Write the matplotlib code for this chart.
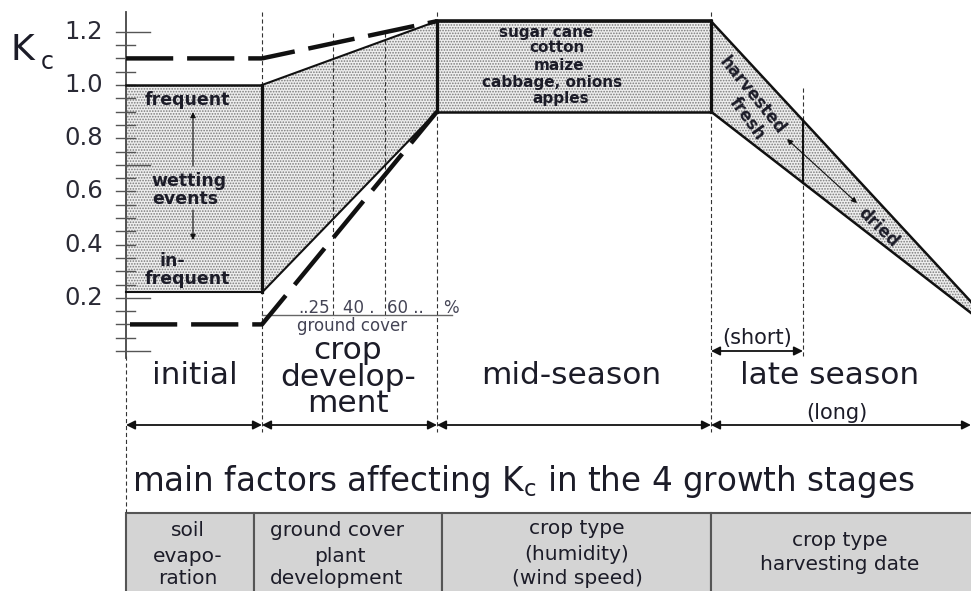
import matplotlib
matplotlib.use('Agg')
import matplotlib.pyplot as plt
import numpy as np
from matplotlib.patches import Polygon, Rectangle

plt.rcParams['font.family'] = ['DejaVu Sans']
plt.rcParams['hatch.linewidth'] = 0.8
plt.rcParams['lines.scale_dashes'] = False

# ---------------- data ----------------
stage_names = ['initial', 'crop\ndevelop-\nment', 'mid-season', 'late season']
stage_bounds = [0, 136, 311, 585, 845]      # time along the season (arbitrary units)
short_late_end = 677
kc_ini_range = [0.22, 1.00]
kc_ini_dash = [0.10, 1.10]
kc_mid_range = [0.90, 1.24]
kc_end_range = [0.143, 0.185]
ground_cover_labels = ['..25', '40 .', '60 ..', '%']
ground_cover_t = [207, 259]
ytick_values = [0.2, 0.4, 0.6, 0.8, 1.0, 1.2]
mid_crops = ['sugar cane', 'cotton', 'maize', 'cabbage, onions', 'apples']

# ---------------- figure ----------------
W, H = 971, 591
fig = plt.figure(figsize=(W / 100, H / 100), dpi=100)
ax = fig.add_axes([0, 0, 1, 1])
AX0, KC0, PPK = 126, 351, 266          # pixel of time 0, pixel of Kc 0, pixels per Kc unit


def X(px):
    return px - AX0


def Y(py):
    return (KC0 - py) / PPK


ax.set_xlim(X(0), X(W))
ax.set_ylim(Y(H), Y(0))
ax.axis('off')

TXT = '#1c1c28'
t0, t1, t2, t3, t4 = stage_bounds
ini_lo, ini_hi = kc_ini_range
mid_lo, mid_hi = kc_mid_range
end_lo, end_hi = kc_end_range

fill_kw = dict(facecolor='#eeeeee', edgecolor='#7a7a7a', hatch='......', linewidth=0, zorder=1)
ax.add_patch(Polygon([(t0, ini_lo), (t0, ini_hi), (t1, ini_hi), (t1, ini_lo)], closed=True, **fill_kw))
ax.add_patch(Polygon([(t1, ini_lo), (t1, ini_hi), (t2, mid_hi), (t2, mid_lo)], closed=True, **fill_kw))
ax.add_patch(Polygon([(t2, mid_lo), (t2, mid_hi), (t3, mid_hi), (t3, mid_lo)], closed=True, **fill_kw))
ax.add_patch(Polygon([(t3, mid_lo), (t3, mid_hi), (t4, end_hi), (t4, end_lo)], closed=True, **fill_kw))

K = '#111111'
ax.plot([t0, t1], [ini_hi, ini_hi], color=K, lw=1.8, zorder=3)
ax.plot([t0, t1], [ini_lo, ini_lo], color=K, lw=1.5, zorder=3)
ax.plot([t1, t1], [ini_lo, ini_hi], color=K, lw=2.3, zorder=3)
ax.plot([t1, t2], [ini_hi, mid_hi], color=K, lw=1.5, zorder=3)
ax.plot([t1, t2], [ini_lo, mid_lo], color=K, lw=1.5, zorder=3)
ax.plot([t2, t3], [mid_hi, mid_hi], color=K, lw=2.6, zorder=3)
ax.plot([t2, t3], [mid_lo, mid_lo], color=K, lw=1.8, zorder=3)
ax.plot([t2, t2], [mid_lo, mid_hi], color=K, lw=2.3, zorder=3)
ax.plot([t3, t3], [mid_lo, mid_hi], color=K, lw=2.3, zorder=3)
ax.plot([t3, t4], [mid_hi, end_hi], color=K, lw=1.8, zorder=3)
ax.plot([t3, t4], [mid_lo, end_lo], color=K, lw=1.8, zorder=3)
s_hi = np.interp(short_late_end, [t3, t4], [mid_hi, end_hi])
s_lo = np.interp(short_late_end, [t3, t4], [mid_lo, end_lo])
ax.plot([short_late_end, short_late_end], [s_lo, s_hi], color=K, lw=1.5, zorder=3)

# dashed alternatives
ax.plot([t0, t1, t2], [kc_ini_dash[1], kc_ini_dash[1], mid_hi], color=K, lw=3.2,
        dashes=(34, 10), zorder=4)
ax.plot([X(130), t1, t2], [kc_ini_dash[0], kc_ini_dash[0], mid_lo], color=K, lw=3.2,
        dashes=(34, 10), zorder=4)

# vertical dotted guides
dot = dict(color='#333333', lw=0.8, ls=(0, (3, 2)), zorder=2)
for t in stage_bounds[1:4]:
    ax.plot([t, t], [Y(12), Y(432)], **dot)
ax.plot([t0, t0], [Y(356), Y(512)], **dot)
ax.plot([short_late_end, short_late_end], [Y(88), Y(356)], **dot)
for t in ground_cover_t:
    ax.plot([t, t], [Y(33), Y(318)], **dot)

# y axis and ticks
ax.plot([t0, t0], [Y(12), Y(358)], color='#444444', lw=1.3, zorder=2)
for v in np.arange(0, 1.2001, 0.05):
    long = any(abs(v - w) < 1e-6 for w in (0.0, 0.2, 0.7, 1.2))
    ax.plot([X(116), X(150 if long else 135)], [v, v], color='#555555', lw=1.0, zorder=2)
for v in ytick_values:
    ax.text(X(103), v, f'{v:.1f}', ha='right', va='center', fontsize=17.5, color='#2a2a35')
ax.text(X(11), Y(50), 'K', ha='left', va='center', fontsize=26, color=TXT)
ax.text(X(41), Y(62), 'c', ha='left', va='center', fontsize=17, color=TXT)

# initial-stage annotations
bold = dict(fontweight='bold', color=TXT, ha='center', va='center')
ax.text(X(187), Y(100), 'frequent', fontsize=12.5, **bold)
ax.text(X(189), Y(181), 'wetting', fontsize=12.5, **bold)
ax.text(X(185), Y(199), 'events', fontsize=12.5, **bold)
ax.text(X(172), Y(261), 'in-', fontsize=12.5, **bold)
ax.text(X(187), Y(279), 'frequent', fontsize=12.5, **bold)
thin_arrow = dict(arrowstyle='-|>', color=K, lw=0.8, mutation_scale=8, shrinkA=0, shrinkB=0)
ax.annotate('', xy=(X(193), Y(112)), xytext=(X(193), Y(166)), arrowprops=thin_arrow)
ax.annotate('', xy=(X(193), Y(240)), xytext=(X(193), Y(210)), arrowprops=thin_arrow)

# mid-season crops
crop_pos = [(546, 32), (557, 48), (559, 65), (552, 82), (561, 99)]
for name, (px, py) in zip(mid_crops, crop_pos):
    ax.text(X(px), Y(py), name, fontsize=11, **bold)

# late-season annotations
ax.text(X(752), Y(96), 'harvested', rotation=-51, rotation_mode='anchor', fontsize=12,
        fontweight='bold', color=TXT, ha='center', va='center')
ax.text(X(747), Y(119), 'fresh', rotation=-54, rotation_mode='anchor', fontsize=12,
        fontweight='bold', color=TXT, ha='center', va='center')
ax.text(X(878), Y(227), 'dried', rotation=-44, rotation_mode='anchor', fontsize=12,
        fontweight='bold', color=TXT, ha='center', va='center')
ax.annotate('', xy=(X(787), Y(139)), xytext=(X(857), Y(203)),
            arrowprops=dict(arrowstyle='<|-|>', color=K, lw=0.8, mutation_scale=8,
                            shrinkA=0, shrinkB=0))

# ground cover scale
ax.plot([t1, X(452)], [Y(315), Y(315)], color='#666666', lw=1.0, zorder=2)
gc_pos = [(314, 308), (359, 308), (405, 308), (451, 308)]
for lab, (px, py) in zip(ground_cover_labels, gc_pos):
    ax.text(X(px), Y(py), lab, ha='center', va='center', fontsize=12, color='#444455')
ax.text(X(352), Y(326), 'ground cover', ha='center', va='center', fontsize=12, color='#444455')

# stage labels and arrows
stage_pos = [(195, 375), (348, 377), (571, 376), (830, 376)]
for name, (px, py) in zip(stage_names, stage_pos):
    ax.text(X(px), Y(py), name, ha='center', va='center', fontsize=22.5, color=TXT,
            linespacing=0.88)
ax.text(X(837), Y(413), '(long)', ha='center', va='center', fontsize=15, color=TXT)
ax.text(X(757), Y(338), '(short)', ha='center', va='center', fontsize=15, color=TXT)
two_way = dict(arrowstyle='<|-|>', color=K, lw=1.3, mutation_scale=13, shrinkA=0, shrinkB=0)
for a, b in zip(stage_bounds[:-1], stage_bounds[1:]):
    ax.annotate('', xy=(b, Y(425)), xytext=(a, Y(425)), arrowprops=two_way)
ax.annotate('', xy=(short_late_end, Y(351)), xytext=(t3, Y(351)), arrowprops=two_way)

# factors title and table
ax.text(X(132), Y(482), r'main factors affecting K$_{\mathrm{c}}$ in the 4 growth stages',
        ha='left', va='center', fontsize=23.5, color=TXT)
col_px = [126, 254, 442, 711, 975]
for a, b in zip(col_px[:-1], col_px[1:]):
    ax.add_patch(Rectangle((X(a), Y(600)), b - a, Y(513) - Y(600), facecolor='#d4d4d4',
                           edgecolor='#555555', lw=1.5, zorder=1))
cell_lines = [
    [('soil', 188, 531), ('evapo-', 188, 557), ('ration', 188, 578)],
    [('ground cover', 337, 531), ('plant', 340, 556), ('development', 337, 579)],
    [('crop type', 577, 529), ('(humidity)', 577, 554), ('(wind speed)', 577, 578)],
    [('crop type', 840, 541), ('harvesting date', 840, 565)],
]
for lines in cell_lines:
    for txt, px, py in lines:
        ax.text(X(px), Y(py), txt, ha='center', va='center', fontsize=14.5, color=TXT)

fig.savefig('out.png', dpi=100)
